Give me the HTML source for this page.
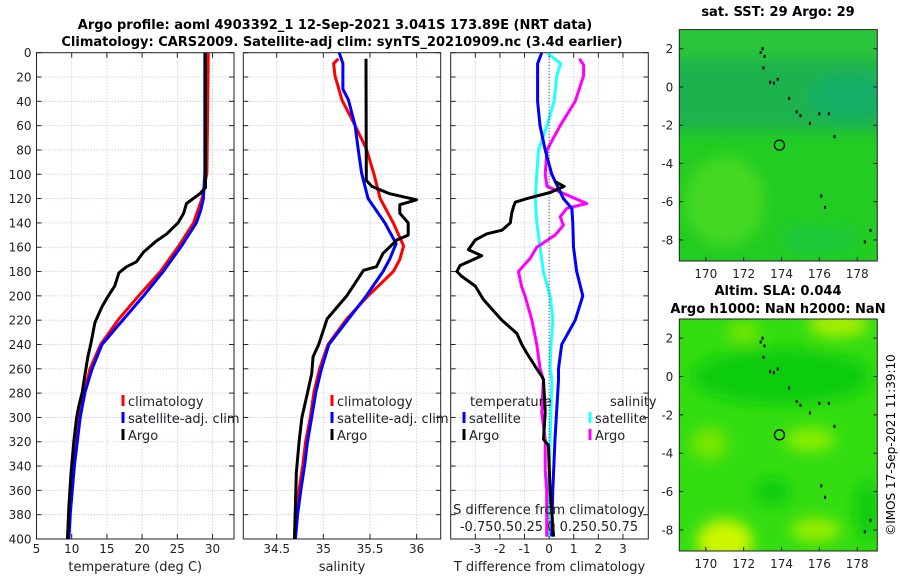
<!DOCTYPE html>
<html><head><meta charset="utf-8"><style>
html,body{margin:0;padding:0;background:#fff;width:900px;height:580px;overflow:hidden}
svg{font-family:"DejaVu Sans","Liberation Sans",sans-serif}
</style></head><body>
<svg id="fig" width="900" height="580" viewBox="0 0 900 580" xmlns="http://www.w3.org/2000/svg">
<defs>
<filter id="blur" x="-20%" y="-20%" width="140%" height="140%"><feGaussianBlur stdDeviation="7"/></filter>
<clipPath id="cm1"><rect x="679.3" y="29.6" width="198" height="231.4"/></clipPath>
<clipPath id="cm2"><rect x="679.3" y="319" width="198" height="232"/></clipPath>
<clipPath id="cp1"><rect x="36.5" y="52.7" width="197.5" height="486.3"/></clipPath>
<clipPath id="cp2"><rect x="243.3" y="52.7" width="197.4" height="486.3"/></clipPath>
<clipPath id="cp3"><rect x="450.7" y="52.7" width="197.6" height="486.3"/></clipPath>
</defs>
<text x="335" y="29" font-size="13" font-weight="bold" text-anchor="middle">Argo profile: aoml 4903392_1 12-Sep-2021 3.041S 173.89E (NRT data)</text>
<text x="342" y="46" font-size="13" font-weight="bold" text-anchor="middle">Climatology: CARS2009. Satellite-adj clim: synTS_20210909.nc (3.4d earlier)</text>
<g id="panels"></g>
<g id="maps"></g>
<text transform="translate(895,445) rotate(-90)" font-size="12" text-anchor="middle">©IMOS 17-Sep-2021 11:39:10</text>
</svg>
<script>
// ---- data (depth in dbar) ----
const tClimDepth = [0,99,120,140,159,180,200,219,240,260,279,300,320,339,359,379,400];
const tClimVal   = [29.4,29.2,28.5,27.3,25.2,22.6,19.5,16.7,14.1,12.6,11.8,11.0,10.5,10.2,9.9,9.6,9.4];
const tSatDepth  = [0,99,120,130,140,159,180,200,219,240,260,279,300,320,339,359,379,400];
const tSatVal    = [28.9,28.9,28.7,28.3,27.7,25.6,23.0,20.2,17.4,14.3,12.9,11.9,11.2,10.8,10.4,10.1,9.8,9.6];
const tArgoDepth = [0,111,116,124,132,140,149,155,164,172,176,181,192,200,209,222,240,250,264,279,291,300,320,346,373,400];
const tArgoVal   = [29.0,29.0,28.2,26.3,25.9,25.1,23.5,22.0,20.2,19.2,17.8,16.7,16.1,15.2,14.3,13.3,12.7,12.3,11.9,11.5,11.0,10.7,10.3,9.9,9.6,9.4];

const sClimDepth = [5,9,19,39,60,79,99,120,140,159,170,180,200,219,240,260,279,300,320,339,359,379,400];
const sClimVal   = [35.16,35.11,35.125,35.2,35.34,35.46,35.54,35.61,35.75,35.86,35.82,35.75,35.48,35.25,35.05,34.96,34.90,34.86,34.81,34.78,34.74,34.71,34.69];
const sSatDepth  = [0,9,19,30,39,60,80,99,120,140,157,170,180,200,219,240,260,279,300,320,339,359,379,400];
const sSatVal    = [35.17,35.21,35.21,35.21,35.27,35.34,35.375,35.41,35.48,35.66,35.78,35.71,35.64,35.46,35.27,35.06,34.98,34.92,34.875,34.83,34.80,34.76,34.725,34.70];
const sArgoDepth = [5,105,110,116,121,125,132,140,150,154,165,176,179,192,200,219,240,250,264,283,300,320,346,373,400];
const sArgoVal   = [35.457,35.46,35.52,35.71,36.0,35.82,35.82,35.91,35.91,35.79,35.64,35.57,35.43,35.32,35.25,35.04,34.95,34.89,34.875,34.82,34.77,34.74,34.71,34.70,34.69];

const dTSatDepth  = [0,9,19,40,60,80,100,120,128,140,160,180,200,220,240,260,269,318,360,398];
const dTSatVal    = [-0.30,-0.47,-0.47,-0.47,-0.37,-0.16,0.11,0.58,0.92,0.96,0.99,1.12,1.37,1.06,0.51,0.38,0.38,0.24,0.15,0.10];
const dTArgoDepth = [106,110,115,120,123,127,132,140,146,149,154,162,167,175,180,184,192,203,220,231,240,247,260,266,269,296,318,323,360,398];
const dTArgoVal   = [0.24,0.61,0.04,-0.9,-1.38,-1.45,-1.52,-1.58,-1.92,-2.53,-3.0,-3.28,-2.74,-3.62,-3.75,-3.55,-3.0,-2.67,-1.92,-1.31,-1.11,-0.91,-0.5,-0.3,-0.23,-0.16,-0.23,-0.03,0.04,0.18];
const dSSatDepth  = [0,9,19,40,60,80,100,120,140,160,180,200,220,240,260,269,318,360,398];
const dSSatVal    = [-0.022,0.118,0.078,0.05,-0.022,-0.108,-0.125,-0.142,-0.125,-0.092,-0.058,0.01,0.038,0.018,0.01,0.028,0.01,-0.008,-0.008];
const dSArgoDepth = [5,10,19,40,60,80,100,110,117,124,128,135,142,150,160,169,180,193,200,220,240,260,269,296,318,343,360,398];
const dSArgoVal   = [0.308,0.35,0.35,0.265,0.112,-0.022,-0.04,-0.022,0.18,0.382,0.18,0.112,0.145,0.06,-0.125,-0.192,-0.312,-0.278,-0.245,-0.175,-0.125,-0.092,-0.058,-0.075,-0.04,-0.04,-0.025,-0.025];

const p1Ticks = [5,10,15,20,25,30];
const p2Ticks = [34.5,35,35.5,36];
const p3Ticks = [-3,-2,-1,0,1,2,3];
const depthTicks = [0,20,40,60,80,100,120,140,160,180,200,220,240,260,280,300,320,340,360,380,400];
const mapLonTicks = [170,172,174,176,178];
const mapLatTicks = [2,0,-2,-4,-6,-8];

const NS='http://www.w3.org/2000/svg';
function mk(tag,attrs,parent){const e=document.createElementNS(NS,tag);for(const k in attrs)e.setAttribute(k,attrs[k]);parent.appendChild(e);return e;}
const yTop=52.7,yBot=539;
function yS(d){return yTop+(d/400)*(yBot-yTop);}
const panelsG=document.getElementById('panels');

function panel(name,x0,x1,dmin,dmax,ticks,fmt,xlabel,showY,clip){
  const g=mk('g',{},panelsG);
  
  
  const xS=v=>x0+(v-dmin)/(dmax-dmin)*(x1-x0);
  // grid
  depthTicks.forEach(d=>{const l=mk('line',{x1:x0,x2:x1,y1:yS(d),y2:yS(d),stroke:'#c0c8e8','stroke-width':0.8,'stroke-dasharray':'1.5,1.5'},g);
    
    });
  ticks.forEach(v=>{const l=mk('line',{x1:xS(v),x2:xS(v),y1:yTop,y2:yBot,stroke:'#c0c8e8','stroke-width':0.8,'stroke-dasharray':'1.5,1.5'},g);
    
    });
  // ticks
  depthTicks.forEach(d=>{mk('line',{x1:x0,x2:x0+5,y1:yS(d),y2:yS(d),stroke:'#222'},g);mk('line',{x1:x1-5,x2:x1,y1:yS(d),y2:yS(d),stroke:'#222'},g);
    if(showY){const t=mk('text',{x:x0-5,y:yS(d)+4.5,'font-size':12,'text-anchor':'end',fill:'#222'},g);t.textContent=d;
      
      }});
  ticks.forEach(v=>{mk('line',{x1:xS(v),x2:xS(v),y1:yBot,y2:yBot-5,stroke:'#222'},g);mk('line',{x1:xS(v),x2:xS(v),y1:yTop,y2:yTop+5,stroke:'#222'},g);
    const t=mk('text',{x:xS(v),y:553,'font-size':12,'text-anchor':'middle',fill:'#222'},g);t.textContent=fmt(v);
    
    });
  const r=mk('rect',{x:x0,y:yTop,width:x1-x0,height:yBot-yTop,fill:'none',stroke:'#222','stroke-width':1},g);
  
  
  const xl=mk('text',{x:(x0+x1)/2,y:571,'font-size':13,'text-anchor':'middle',fill:'#222'},g);xl.textContent=xlabel;
  
  
  const lg=mk('g',{'clip-path':'url(#'+clip+')'},g);
  return {g,lg,xS};
}
function series(p,depths,vals,color,name,scale){
  const pts=depths.map((d,i)=>p.xS(vals[i]*(scale||1)).toFixed(1)+','+yS(d).toFixed(1)).join(' ');
  const pl=mk('polyline',{points:pts,fill:'none',stroke:color,'stroke-width':3,'stroke-linejoin':'round'},p.lg);
  
  
}
function legendItem(g,x,y,color,label,name){
  const it=mk('g',{},g);
  
  
  mk('line',{x1:x,x2:x,y1:y-11,y2:y,stroke:color,'stroke-width':3},it);
  const t=mk('text',{x:x+5,y:y,'font-size':13,fill:'#222'},it);t.textContent=label;
}

const p1=panel('temperature-panel',36.5,234,5,33.05,p1Ticks,v=>v,'temperature (deg C)',true,'cp1');
series(p1,tClimDepth,tClimVal,'#ff0000','temperature-climatology-line');
series(p1,tSatDepth,tSatVal,'#0000ff','temperature-satellite-line');
series(p1,tArgoDepth,tArgoVal,'#000000','temperature-argo-line');
legendItem(p1.g,123,406,'#ff0000','climatology','legend-climatology');
legendItem(p1.g,123,423,'#0000ff','satellite-adj. clim','legend-satellite-adj');
legendItem(p1.g,123,440,'#000000','Argo','legend-argo');

const p2=panel('salinity-panel',243.3,440.7,34.142,36.258,p2Ticks,v=>v,'salinity',false,'cp2');
series(p2,sClimDepth,sClimVal,'#ff0000','salinity-climatology-line');
series(p2,sSatDepth,sSatVal,'#0000ff','salinity-satellite-line');
series(p2,sArgoDepth,sArgoVal,'#000000','salinity-argo-line');
legendItem(p2.g,332,406,'#ff0000','climatology','legend-climatology');
legendItem(p2.g,332,423,'#0000ff','satellite-adj. clim','legend-satellite-adj');
legendItem(p2.g,332,440,'#000000','Argo','legend-argo');

const p3=panel('difference-panel',450.7,648.3,-4.0,4.03,p3Ticks,v=>v,'T difference from climatology',false,'cp3');
const zl=mk('line',{x1:p3.xS(0),x2:p3.xS(0),y1:yTop,y2:yBot,stroke:'#333','stroke-width':1,'stroke-dasharray':'1,2'},p3.g);


series(p3,dSSatDepth,dSSatVal,'#22ffff','salinity-satellite-diff-line',4);
series(p3,dSArgoDepth,dSArgoVal,'#ff00ff','salinity-argo-diff-line',4);
series(p3,dTSatDepth,dTSatVal,'#0000ff','temperature-satellite-diff-line');
series(p3,dTArgoDepth,dTArgoVal,'#000000','temperature-argo-diff-line');
{const t=mk('text',{x:470,y:406,'font-size':13,fill:'#222'},p3.g);t.textContent='temperature';


const t2=mk('text',{x:610,y:406,'font-size':13,fill:'#222'},p3.g);t2.textContent='salinity';

}
legendItem(p3.g,464,423,'#0000ff','satellite','legend-temperature-satellite');
legendItem(p3.g,464,440,'#000000','Argo','legend-temperature-argo');
legendItem(p3.g,590,423,'#22ffff','satellite','legend-salinity-satellite');
legendItem(p3.g,590,440,'#ff00ff','Argo','legend-salinity-argo');
{const t=mk('text',{x:549,y:514,'font-size':13,'text-anchor':'middle',fill:'#222'},p3.g);t.textContent='S difference from climatology';


const t2=mk('text',{x:549,y:531,'font-size':13,'text-anchor':'middle',fill:'#222'},p3.g);t2.textContent='-0.750.50.25 0 0.250.50.75';

}

// ---- maps ----
const coastLon=[173.0,173.1,173.05,173.4,173.8,174.4,174.8,175.0,175.5,176.0,176.5,176.8,176.1,176.3,178.4,178.7,172.9,173.6];
const coastLat=[2.0,1.6,1.0,0.25,0.4,-0.6,-1.3,-1.5,-1.9,-1.4,-1.4,-2.6,-5.7,-6.3,-8.1,-7.5,1.8,0.2];
const profLon=173.89, profLat=-3.041;
const mapsG=document.getElementById('maps');
function map(name,top,bot,clip,kind,titles){
  const x0=679.3,x1=877.3,lonMin=168.6,lonMax=179.06,latMax=3.0,latMin=-9.1;
  const xS=v=>x0+(v-lonMin)/(lonMax-lonMin)*(x1-x0);
  const yM=v=>top+(latMax-v)/(latMax-latMin)*(bot-top);
  const g=mk('g',{},mapsG);
  
  
  const bg=mk('g',{'clip-path':'url(#'+clip+')'},g);
  if(kind==='sst'){
    mk('rect',{x:x0,y:top,width:x1-x0,height:bot-top,fill:'#22cc22'},bg);
    const bl=mk('g',{filter:'url(#blur)'},bg);
    mk('rect',{x:x0-20,y:yM(1.5),width:240,height:yM(-2.3)-yM(1.5),fill:'#1eb24e'},bl);
    mk('ellipse',{cx:xS(177.5),cy:yM(-0.5),rx:40,ry:22,fill:'#16b068'},bl);
    mk('rect',{x:x0-20,y:yM(3.5),width:240,height:yM(1.6)-yM(3.5),fill:'#2cc43a'},bl);
    mk('ellipse',{cx:xS(171),cy:yM(-6),rx:40,ry:45,fill:'#44d820'},bl);
    mk('ellipse',{cx:xS(176),cy:yM(-8),rx:40,ry:14,fill:'#1ec83a'},bl);
  } else {
    mk('rect',{x:x0,y:top,width:x1-x0,height:bot-top,fill:'#33dd11'},bg);
    const bl=mk('g',{filter:'url(#blur)'},bg);
    mk('ellipse',{cx:xS(174),cy:yM(0),rx:90,ry:28,fill:'#11cc11'},bl);
    mk('ellipse',{cx:xS(177),cy:yM(2.7),rx:30,ry:12,fill:'#aaee00'},bl);
    mk('ellipse',{cx:xS(171),cy:yM(-8.6),rx:28,ry:22,fill:'#ccf500'},bl);
    mk('ellipse',{cx:xS(175.8),cy:yM(-8),rx:25,ry:12,fill:'#99ee00'},bl);
    mk('ellipse',{cx:xS(175.5),cy:yM(-3.3),rx:25,ry:12,fill:'#88ee00'},bl);
    mk('ellipse',{cx:xS(170.2),cy:yM(-3.5),rx:18,ry:16,fill:'#77e600'},bl);
    mk('ellipse',{cx:xS(173.5),cy:yM(-6),rx:18,ry:14,fill:'#11cc11'},bl);
    mk('ellipse',{cx:xS(178.5),cy:yM(-7),rx:12,ry:30,fill:'#11cc11'},bl);
    mk('ellipse',{cx:xS(172),cy:yM(2.3),rx:16,ry:10,fill:'#77e600'},bl);
  }
  coastLon.forEach((lo,i)=>{const c=mk('rect',{x:xS(lo)-1,y:yM(coastLat[i])-1.5,width:2,height:3,fill:'#000'},g);
    
    });
  const ci=mk('circle',{cx:xS(profLon),cy:yM(profLat),r:5,fill:'none',stroke:'#000','stroke-width':1.3},g);
  
  
  mk('rect',{x:x0,y:top,width:x1-x0,height:bot-top,fill:'none',stroke:'#222'},g);
  mapLonTicks.forEach(v=>{mk('line',{x1:xS(v),x2:xS(v),y1:bot,y2:bot-4,stroke:'#222'},g);
    const t=mk('text',{x:xS(v),y:bot+17,'font-size':12,'text-anchor':'middle',fill:'#222'},g);t.textContent=v;
    
    });
  mapLatTicks.forEach(v=>{mk('line',{x1:x0,x2:x0+4,y1:yM(v),y2:yM(v),stroke:'#222'},g);mk('line',{x1:x1,x2:x1-4,y1:yM(v),y2:yM(v),stroke:'#222'},g);
    const t=mk('text',{x:x0-6,y:yM(v)+4.5,'font-size':12,'text-anchor':'end',fill:'#222'},g);t.textContent=v;
    
    });
  titles.forEach((s,i)=>{const t=mk('text',{x:778,y:s[1],'font-size':13,'font-weight':'bold','text-anchor':'middle',fill:'#000'},g);t.textContent=s[0];
    
    });
}
map('sst-map',29.6,261,'cm1','sst',[['sat. SST: 29 Argo: 29',16]]);
map('sla-map',319,551,'cm2','sla',[['Altim. SLA: 0.044',295],['Argo h1000: NaN h2000: NaN',313]]);
</script>
</body></html>
